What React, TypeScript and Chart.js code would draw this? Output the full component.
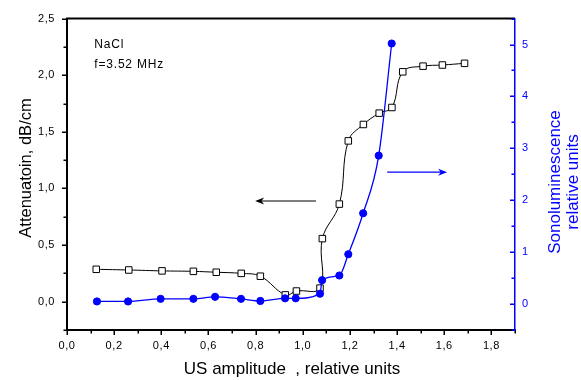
import React, { useEffect, useRef } from 'react';
import { Chart, registerables } from 'chart.js';

Chart.register(...registerables);

// Attenuation (left axis, dB/cm) vs US amplitude
const attAmplitude = [0.124, 0.262, 0.403, 0.536, 0.633, 0.739, 0.82, 0.926, 0.973, 1.073, 1.083, 1.155, 1.193, 1.257, 1.324, 1.378, 1.424, 1.51, 1.592, 1.686];
const attenuation = [0.286, 0.28, 0.272, 0.268, 0.26, 0.25, 0.225, 0.06, 0.094, 0.12, 0.557, 0.862, 1.42, 1.565, 1.665, 1.715, 2.03, 2.08, 2.09, 2.105];

// Sonoluminescence (right axis, relative units) vs US amplitude
const sonoAmplitude = [0.127, 0.259, 0.397, 0.536, 0.628, 0.738, 0.82, 0.925, 0.97, 1.073, 1.082, 1.155, 1.193, 1.256, 1.322, 1.377];
const sonoluminescence = [0.05, 0.05, 0.1, 0.1, 0.14, 0.1, 0.06, 0.11, 0.11, 0.2, 0.46, 0.55, 0.96, 1.75, 2.86, 5.02];

// Axis ranges and tick steps
const xRange = [0, 1.9];
const yLeftRange = [-0.25, 2.5];
const yRightRange = [-0.5, 5.5];
const xLabelStep = 0.2;
const yLeftLabelStep = 0.5;
const yRightLabelStep = 1;

// Annotations (data coordinates)
const leftArrow = [1.056, 0.889, 0.798, 0.889]; // x1, y1, x2, y2 on left axis
const rightArrow = [1.358, 2.54, 1.612, 2.54]; // x1, y1, x2, y2 on right axis
const noteText = ['NaCl', 'f=3.52 MHz'];
const notePos = [0.116, 2.27, 2.095]; // x, y line1, y line2 (left axis)

const xTitle = 'US amplitude  , relative units';
const yLeftTitle = 'Attenuatoin, dB/cm';
const yRightTitle = ['Sonoluminescence', 'relative units'];

const BLUE = '#0000ff';
const FONT = '"Liberation Sans", Arial, sans-serif';

const isMult = (v: number, step: number) => Math.abs(v / step - Math.round(v / step)) < 1e-6;

function drawArrow(ctx: CanvasRenderingContext2D, x1: number, y1: number, x2: number, y2: number, color: string) {
  const ang = Math.atan2(y2 - y1, x2 - x1);
  const hl = 9, hw = 3.5;
  ctx.strokeStyle = color;
  ctx.fillStyle = color;
  ctx.lineWidth = 1.2;
  ctx.beginPath();
  ctx.moveTo(x1, y1);
  ctx.lineTo(x2 - Math.cos(ang) * hl * 0.6, y2 - Math.sin(ang) * hl * 0.6);
  ctx.stroke();
  ctx.beginPath();
  ctx.moveTo(x2, y2);
  ctx.lineTo(x2 - Math.cos(ang) * hl - Math.sin(ang) * hw, y2 - Math.sin(ang) * hl + Math.cos(ang) * hw);
  ctx.lineTo(x2 - Math.cos(ang) * hl * 0.7, y2 - Math.sin(ang) * hl * 0.7);
  ctx.lineTo(x2 - Math.cos(ang) * hl + Math.sin(ang) * hw, y2 - Math.sin(ang) * hl - Math.cos(ang) * hw);
  ctx.closePath();
  ctx.fill();
}

const decorPlugin = {
  id: 'decor',
  beforeDraw(chart: any) {
    (chart.ctx as any).letterSpacing = '0.6px';
  },
  afterDraw(chart: any) {
    const { ctx, chartArea: a, scales } = chart;
    const sx = scales.x, sl = scales.y, sr = scales.y1;
    ctx.save();
    (ctx as any).letterSpacing = '0px';
    // top border
    ctx.strokeStyle = '#000';
    ctx.lineWidth = 2;
    ctx.beginPath();
    ctx.moveTo(a.left - 1, a.top);
    ctx.lineTo(a.right, a.top);
    ctx.stroke();

    // tick marks
    ctx.lineWidth = 1.5;
    ctx.strokeStyle = '#000';
    sx.ticks.forEach((t: any) => {
      const p = Math.round(sx.getPixelForValue(t.value)) + 0.25;
      const len = isMult(t.value, xLabelStep) ? 5 : 3.5;
      ctx.beginPath();
      ctx.moveTo(p, a.bottom);
      ctx.lineTo(p, a.bottom + len);
      ctx.stroke();
    });
    sl.ticks.forEach((t: any) => {
      const p = Math.round(sl.getPixelForValue(t.value)) + 0.25;
      const len = isMult(t.value, yLeftLabelStep) ? 5 : 3.5;
      ctx.beginPath();
      ctx.moveTo(a.left, p);
      ctx.lineTo(a.left - len, p);
      ctx.stroke();
    });
    ctx.strokeStyle = BLUE;
    sr.ticks.forEach((t: any) => {
      const p = Math.round(sr.getPixelForValue(t.value)) + 0.25;
      const len = isMult(t.value, yRightLabelStep) ? 5 : 3.5;
      ctx.beginPath();
      ctx.moveTo(a.right, p);
      ctx.lineTo(a.right - len, p);
      ctx.stroke();
    });

    // arrows
    drawArrow(ctx, sx.getPixelForValue(leftArrow[0]), sl.getPixelForValue(leftArrow[1]), sx.getPixelForValue(leftArrow[2]), sl.getPixelForValue(leftArrow[3]), '#000');
    drawArrow(ctx, sx.getPixelForValue(rightArrow[0]), sr.getPixelForValue(rightArrow[1]), sx.getPixelForValue(rightArrow[2]), sr.getPixelForValue(rightArrow[3]), BLUE);

    // note text
    ctx.fillStyle = '#000';
    ctx.font = `12px ${FONT}`;
    (ctx as any).letterSpacing = '0.8px';
    ctx.textAlign = 'left';
    ctx.textBaseline = 'middle';
    ctx.fillText(noteText[0], sx.getPixelForValue(notePos[0]), sl.getPixelForValue(notePos[1]));
    ctx.fillText(noteText[1], sx.getPixelForValue(notePos[0]), sl.getPixelForValue(notePos[2]));
    (ctx as any).letterSpacing = '0px';

    // axis titles
    ctx.textAlign = 'center';
    ctx.textBaseline = 'middle';
    ctx.font = `17px ${FONT}`;
    ctx.fillText(xTitle, (a.left + a.right) / 2 + 1, 369);

    ctx.save();
    ctx.translate(26, 168);
    ctx.rotate(-Math.PI / 2);
    ctx.font = `16.5px ${FONT}`;
    ctx.fillText(yLeftTitle, 0, 0);
    ctx.restore();

    ctx.save();
    ctx.fillStyle = BLUE;
    ctx.font = `17px ${FONT}`;
    ctx.translate(555, 182);
    ctx.rotate(-Math.PI / 2);
    ctx.fillText(yRightTitle[0], 0, 0);
    ctx.fillText(yRightTitle[1], 0, 18);
    ctx.restore();

    ctx.restore();
  },
};

export default function App() {
  const ref = useRef<HTMLCanvasElement>(null);
  useEffect(() => {
    const attData = attAmplitude.map((x, i) => ({ x, y: attenuation[i] }));
    const sonoData = sonoAmplitude.map((x, i) => ({ x, y: sonoluminescence[i] }));
    const tickFont = { family: FONT, size: 11 };
    const chart = new Chart(ref.current as HTMLCanvasElement, {
      type: 'line',
      data: {
        datasets: [
          {
            label: 'Sonoluminescence',
            data: sonoData,
            yAxisID: 'y1',
            borderColor: BLUE,
            backgroundColor: BLUE,
            borderWidth: 1.3,
            pointRadius: 3.6,
            pointBackgroundColor: BLUE,
            pointBorderColor: BLUE,
            pointBorderWidth: 1,
            cubicInterpolationMode: 'monotone',
          },
          {
            label: 'Attenuation',
            data: attData,
            yAxisID: 'y',
            borderColor: '#000',
            backgroundColor: '#fff',
            borderWidth: 1,
            pointStyle: 'rect',
            pointRadius: 4.6,
            pointBackgroundColor: '#fff',
            pointBorderColor: '#000',
            pointBorderWidth: 1,
            tension: 0.4,
          },
        ],
      },
      options: {
        responsive: false,
        animation: false,
        devicePixelRatio: 1,
        layout: { padding: { top: 14, left: 0, right: 0, bottom: 0 } },
        plugins: { legend: { display: false }, tooltip: { enabled: false } },
        scales: {
          x: {
            type: 'linear',
            position: 'bottom',
            min: xRange[0],
            max: xRange[1],
            grid: { display: false, drawTicks: false },
            border: { display: true, color: '#000', width: 2 },
            ticks: {
              stepSize: 0.1,
              autoSkip: false,
              maxRotation: 0,
              padding: 9,
              color: '#000',
              font: tickFont,
              callback: (v: any) => (isMult(v, xLabelStep) ? Number(v).toFixed(1).replace('.', ',') : ''),
            },
            afterFit: (s: any) => { s.height = 50; },
          },
          y: {
            type: 'linear',
            position: 'left',
            min: yLeftRange[0],
            max: yLeftRange[1],
            grid: { display: false, drawTicks: false },
            border: { display: true, color: '#000', width: 2 },
            ticks: {
              stepSize: 0.25,
              autoSkip: false,
              padding: 12,
              color: '#000',
              font: tickFont,
              callback: (v: any) => (isMult(v, yLeftLabelStep) ? Number(v).toFixed(1).replace('.', ',') : ''),
            },
            afterFit: (s: any) => { s.width = 67; },
          },
          y1: {
            type: 'linear',
            position: 'right',
            min: yRightRange[0],
            max: yRightRange[1],
            grid: { display: false, drawTicks: false },
            border: { display: true, color: BLUE, width: 1.5 },
            ticks: {
              stepSize: 0.5,
              autoSkip: false,
              padding: 7,
              color: BLUE,
              font: tickFont,
              callback: (v: any) => (isMult(v, yRightLabelStep) ? String(Math.round(v)) : ''),
            },
            afterFit: (s: any) => { s.width = 66; },
          },
        },
      } as any,
      plugins: [decorPlugin],
    });
    return () => chart.destroy();
  }, []);
  return (
    <div style={{ position: 'fixed', left: 0, top: 0, width: 581, height: 380, background: '#fff' }}>
      <canvas ref={ref} width={581} height={380} style={{ width: 581, height: 380, display: 'block' }} />
    </div>
  );
}
